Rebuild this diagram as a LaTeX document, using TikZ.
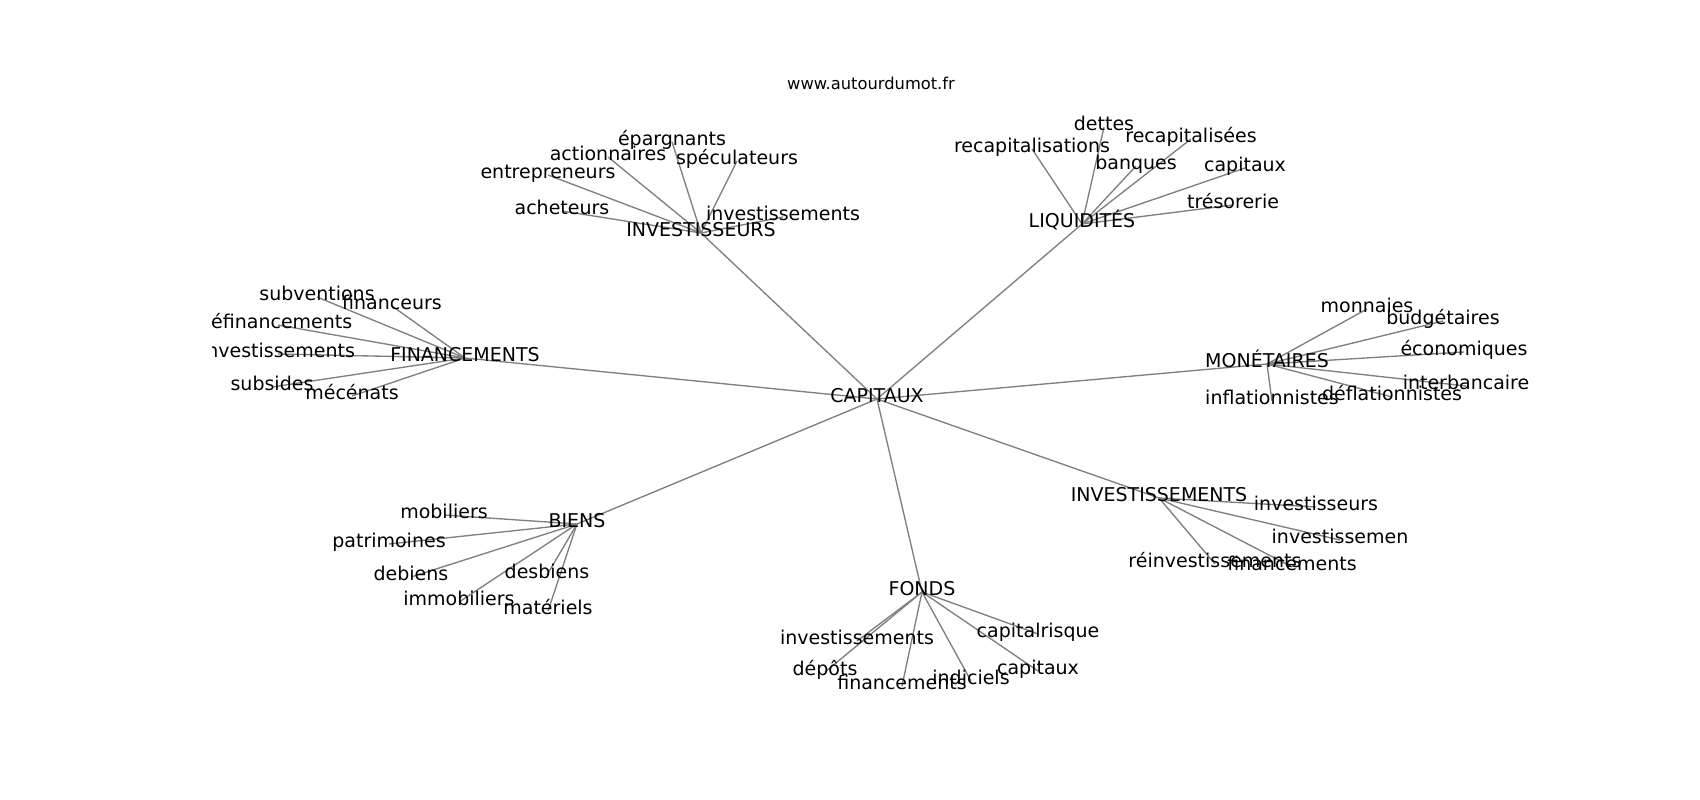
\documentclass[tikz,border=0pt]{standalone}
\usepackage{fontspec}
\setmainfont{DejaVu Sans}
\pgfdeclarelayer{bg}
\pgfdeclarelayer{edges}
\pgfsetlayers{bg,edges,main}
\tikzset{
  lbl/.style={inner sep=0pt, outer sep=0pt, anchor=center, text height=0.76em, text depth=0.10em, yshift=-4pt, font=\fontsize{19}{23}\selectfont, text=black},
  ttl/.style={inner sep=0pt, anchor=center, font=\fontsize{16.3}{19}\selectfont, text=black},
  edge/.style={draw={rgb,255:red,128;green,128;blue,128}, line width=1.35pt}
}
\begin{document}
\begin{tikzpicture}[x=1pt,y=-1pt]
\begin{pgfonlayer}{bg}
\fill[white] (0,0) rectangle (1700,800);
\end{pgfonlayer}
\useasboundingbox (0,0) rectangle (1700,800);
\node[ttl] (title) at (871,83) {www.autourdumot.fr};
\begin{scope}
\clip (212.5,96) rectangle (1530.5,712);
% centre
\node[lbl] (cap) at (877,395) {CAPITAUX};
% hubs
\node[lbl] (inv) at (701,229) {INVESTISSEURS};
\node[lbl] (liq) at (1082,220) {LIQUIDITÉS};
\node[lbl] (fin) at (465,354) {FINANCEMENTS};
\node[lbl] (mon) at (1267,360) {MONÉTAIRES};
\node[lbl] (ivt) at (1159,494) {INVESTISSEMENTS};
\node[lbl] (bie) at (577,520) {BIENS};
\node[lbl] (fon) at (922,588) {FONDS};
% INVESTISSEURS leaves
\node[lbl] (inv1) at (672,138) {épargnants};
\node[lbl] (inv2) at (608,153) {actionnaires};
\node[lbl] (inv3) at (737,157) {spéculateurs};
\node[lbl] (inv4) at (548,171) {entrepreneurs};
\node[lbl] (inv5) at (562,207) {acheteurs};
\node[lbl] (inv6) at (783,213) {investissements};
% LIQUIDITES leaves
\node[lbl] (liq1) at (1104,123) {dettes};
\node[lbl] (liq2) at (1032,145) {recapitalisations};
\node[lbl] (liq3) at (1191,135) {recapitalisées};
\node[lbl] (liq4) at (1136,162) {banques};
\node[lbl] (liq5) at (1245,164) {capitaux};
\node[lbl] (liq6) at (1233,201) {trésorerie};
% FINANCEMENTS leaves
\node[lbl] (fin1) at (317,293) {subventions};
\node[lbl] (fin2) at (392,302) {financeurs};
\node[lbl] (fin3) at (278,321) {réfinancements};
\node[lbl] (fin4) at (278,350) {investissements};
\node[lbl] (fin5) at (272,383) {subsides};
\node[lbl] (fin6) at (352,392) {mécénats};
% MONETAIRES leaves
\node[lbl] (mon1) at (1367,305) {monnaies};
\node[lbl] (mon2) at (1443,317) {budgétaires};
\node[lbl] (mon3) at (1464,348) {économiques};
\node[lbl] (mon4) at (1466,382) {interbancaire};
\node[lbl] (mon5) at (1392,393) {déflationnistes};
\node[lbl] (mon6) at (1272,397) {inflationnistes};
% INVESTISSEMENTS leaves
\node[lbl] (ivt1) at (1316,503) {investisseurs};
\node[lbl] (ivt2) at (1340,536) {investissemen};
\node[lbl] (ivt3) at (1215,560) {réinvestissements};
\node[lbl] (ivt4) at (1292,563) {financements};
% BIENS leaves
\node[lbl] (bie1) at (444,511) {mobiliers};
\node[lbl] (bie2) at (389,540) {patrimoines};
\node[lbl] (bie3) at (411,573) {debiens};
\node[lbl] (bie4) at (547,571) {desbiens};
\node[lbl] (bie5) at (459,598) {immobiliers};
\node[lbl] (bie6) at (548,607) {matériels};
% FONDS leaves
\node[lbl] (fon1) at (857,637) {investissements};
\node[lbl] (fon2) at (825,668) {dépôts};
\node[lbl] (fon3) at (902,682) {financements};
\node[lbl] (fon4) at (971,677) {indiciels};
\node[lbl] (fon5) at (1038,630) {capitalrisque};
\node[lbl] (fon6) at (1038,667) {capitaux};
\end{scope}
\begin{pgfonlayer}{edges}
\foreach \h in {inv,liq,fin,mon,ivt,bie,fon}{
  \draw[edge] (cap.center) -- (\h.center);
}
\foreach \h/\n in {inv/6,liq/6,fin/6,mon/6,ivt/4,bie/6,fon/6}{
  \foreach \i in {1,...,\n}{
    \draw[edge] (\h.center) -- (\h\i.center);
  }
}
\end{pgfonlayer}
\end{tikzpicture}
\end{document}
